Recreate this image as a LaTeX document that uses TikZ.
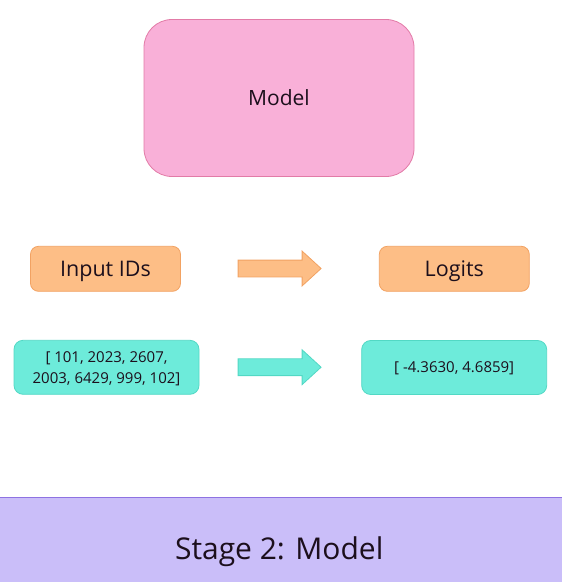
\documentclass[tikz,border=0pt]{standalone}
\usepackage{fontspec}
\setmainfont{Open Sans}
\usetikzlibrary{shapes.arrows}

\definecolor{modelfill}{HTML}{F9B0D8}
\definecolor{modelline}{HTML}{E27BA7}
\definecolor{idfill}{HTML}{FDBE86}
\definecolor{idline}{HTML}{F2A262}
\definecolor{valfill}{HTML}{6DEBDA}
\definecolor{valline}{HTML}{52D8C4}
\definecolor{bandfill}{HTML}{CABEF9}
\definecolor{bandline}{HTML}{8E72E2}
\definecolor{inkcol}{HTML}{1C0F1C}

\begin{document}
\begin{tikzpicture}[x=1pt, y=-1pt,
  modelbox/.style={draw=modelline, fill=modelfill, rounded corners=28pt, line width=0.8pt,
    minimum width=270pt, minimum height=157pt, text=inkcol, text depth=0pt,
    font=\fontsize{21}{25}\selectfont},
  idbox/.style={draw=idline, fill=idfill, rounded corners=8pt, line width=0.8pt,
    minimum width=150pt, minimum height=45pt, text=inkcol, text depth=0pt,
    font=\fontsize{21.5}{25}\selectfont},
  valbox/.style={draw=valline, fill=valfill, rounded corners=9pt, line width=0.8pt,
    minimum width=185pt, minimum height=54pt, text=inkcol, align=center, text depth=0pt,
    font=\fontsize{15}{20.7}\selectfont},
  flowarrow/.style={single arrow, inner xsep=0pt, inner ysep=8pt, line width=0.8pt,
    minimum height=83pt, single arrow head extend=9pt,
    single arrow tip angle=85, anchor=tail}]
\useasboundingbox (0,0) rectangle (562,582);

% Model
\node[modelbox] (model) at (279,98) {Model};

% Labels
\node[idbox] (inputids) at (105.5,268.8) {Input IDs};
\node[idbox] (logits) at (454.3,268.8) {Logits};
\node[flowarrow, draw=idline, fill=idfill] (idarrow) at (237.7,268.5) {};

% Values
\node[valbox] (tokens) at (106.5,367.3) {[ 101, 2023, 2607,\\2003, 6429, 999, 102]};
\node[valbox] (scores) at (454.2,367.5) {[ -4.3630, 4.6859]};
\node[flowarrow, draw=valline, fill=valfill] (valarrow) at (237.7,367.2) {};

% Stage band
\fill[bandfill] (0,497) rectangle (562,582);
\draw[bandline, line width=1pt] (0,497) -- (562,497);
\node[text=inkcol, font=\fontsize{30}{36}\selectfont, anchor=base] (stage) at (279.2,559.3) {Stage 2: Model};
\end{tikzpicture}
\end{document}
